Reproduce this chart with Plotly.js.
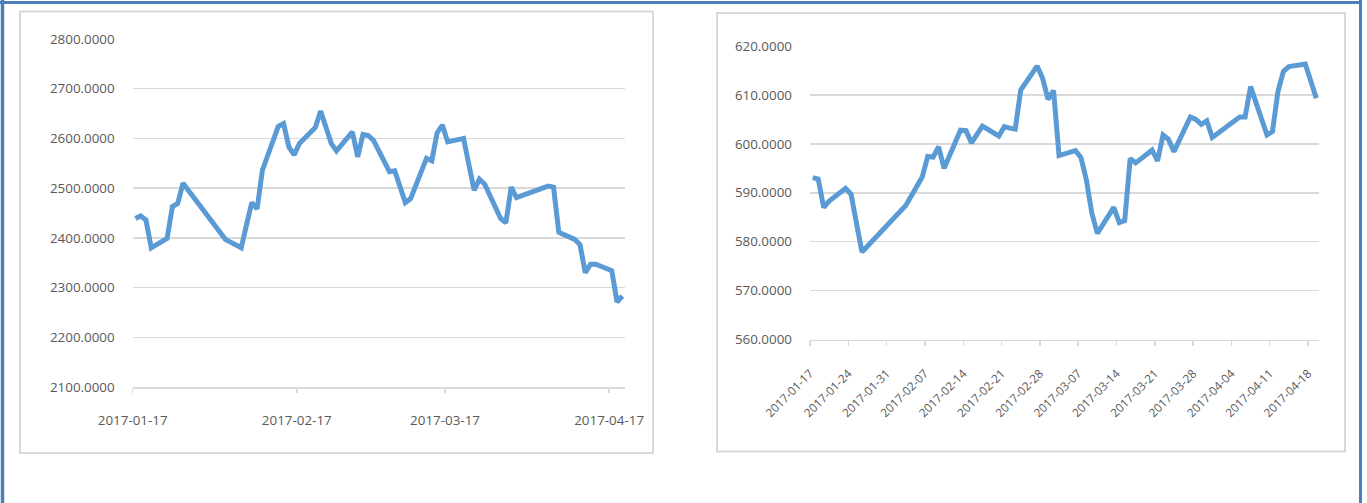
<!DOCTYPE html>
<html>
<head>
<meta charset="utf-8">
<script src="https://cdn.plot.ly/plotly-3.0.1.min.js"></script>
<style>
  html, body { margin: 0; padding: 0; background: #ffffff; }
  #chart { width: 1367px; height: 503px; }
</style>
</head>
<body>
<div id="chart"></div>
<script>
// ---- Data ----
const leftDates = [
  '2017-01-17','2017-01-18','2017-01-19','2017-01-20','2017-01-23','2017-01-24','2017-01-25','2017-01-26',
  '2017-02-03','2017-02-06','2017-02-07','2017-02-08','2017-02-09','2017-02-10',
  '2017-02-13','2017-02-14','2017-02-15','2017-02-16','2017-02-17',
  '2017-02-20','2017-02-21','2017-02-22','2017-02-23','2017-02-24',
  '2017-02-27','2017-02-28','2017-03-01','2017-03-02','2017-03-03',
  '2017-03-06','2017-03-07','2017-03-08','2017-03-09','2017-03-10',
  '2017-03-13','2017-03-14','2017-03-15','2017-03-16','2017-03-17',
  '2017-03-20','2017-03-21','2017-03-22','2017-03-23','2017-03-24',
  '2017-03-27','2017-03-28','2017-03-29','2017-03-30','2017-03-31',
  '2017-04-05','2017-04-06','2017-04-07',
  '2017-04-10','2017-04-11','2017-04-12','2017-04-13','2017-04-14',
  '2017-04-17','2017-04-18','2017-04-19'
];
const leftValues = [
  2439, 2444, 2436, 2380, 2399, 2463, 2469, 2510,
  2397, 2380, 2426, 2471, 2458, 2536,
  2624, 2630, 2583, 2567, 2590,
  2622, 2655, 2620, 2590, 2575,
  2613, 2563, 2608, 2606, 2596,
  2533, 2535, 2503, 2471, 2479,
  2560, 2555, 2611, 2627, 2593,
  2600, 2553, 2496, 2518, 2508,
  2439, 2430, 2502, 2481, 2485,
  2504, 2502, 2411,
  2397, 2386, 2330, 2347, 2347,
  2334, 2271, 2283
];

const rightDates = leftDates.slice();
const rightValues = [
  593.1, 592.8, 587.0, 588.3, 590.9, 589.7, 583.7, 577.9,
  587.4, 593.2, 597.4, 597.3, 599.4, 595.0,
  602.8, 602.7, 600.2, 602.1, 603.6,
  601.6, 603.5, 603.2, 603.0, 611.0,
  615.9, 613.4, 609.1, 610.9, 597.6,
  598.6, 597.2, 592.6, 585.8, 581.7,
  587.0, 583.9, 584.3, 597.0, 596.1,
  598.7, 596.5, 601.8, 600.9, 598.4,
  605.5, 605.0, 604.0, 604.7, 601.3,
  605.5, 605.5, 611.7,
  601.8, 602.5, 610.7, 614.8, 615.8,
  616.3, 612.8, 609.3
];

const leftTickLabels = ['2017-01-17','2017-02-17','2017-03-17','2017-04-17'];
const rightTickLabels = ['2017-01-17','2017-01-24','2017-01-31','2017-02-07','2017-02-14','2017-02-21',
  '2017-02-28','2017-03-07','2017-03-14','2017-03-21','2017-03-28','2017-04-04','2017-04-11','2017-04-18'];

const leftYTicks = [2100, 2200, 2300, 2400, 2500, 2600, 2700, 2800];
const rightYTicks = [560, 570, 580, 590, 600, 610, 620];

// ---- Layout helpers ----
const W = 1367, H = 503;
const px = v => v / W;
const py = v => 1 - v / H;
const HALF_DAY = 12 * 3600 * 1000;
// Excel date-axis ticks sit on category boundaries (half a day before each point)
const boundary = s => new Date(s + 'T00:00:00Z').getTime() - HALF_DAY;

const lineColor = '#5b9bd5';
const gridColor = '#d9d9d9';
const textColor = '#595959';
const fontFam = '"Open Sans", "Liberation Sans", Arial, sans-serif';

const traces = [
  { x: leftDates, y: leftValues, type: 'scatter', mode: 'lines', xaxis: 'x', yaxis: 'y',
    line: { color: lineColor, width: 5, shape: 'linear' }, hoverinfo: 'x+y' },
  { x: rightDates, y: rightValues, type: 'scatter', mode: 'lines', xaxis: 'x2', yaxis: 'y2',
    line: { color: lineColor, width: 5, shape: 'linear' }, hoverinfo: 'x+y' }
];

const tickFont = { family: fontFam, size: 13.4, color: textColor };
const rotFont = { family: fontFam, size: 11.8, color: textColor };

const layout = {
  width: W, height: H, autosize: false,
  margin: { l: 0, r: 0, t: 0, b: 0, pad: 0 },
  paper_bgcolor: '#ffffff', plot_bgcolor: 'rgba(0,0,0,0)',
  showlegend: false,
  xaxis: {
    type: 'date', domain: [px(132.7), px(625)],
    range: [boundary('2017-01-17'), boundary('2017-04-20')],
    tickvals: leftTickLabels.map(boundary), ticktext: leftTickLabels,
    showgrid: false, zeroline: false,
    showline: true, linecolor: gridColor, linewidth: 1.5,
    ticks: 'outside', ticklen: 4, tickcolor: gridColor, tickwidth: 1.5,
    ticklabelstandoff: 16,
    tickfont: tickFont, anchor: 'y'
  },
  yaxis: {
    domain: [py(387), py(39)], range: [2100, 2800],
    tickvals: leftYTicks, tickformat: '.4f',
    showgrid: true, gridcolor: gridColor, gridwidth: 1.5,
    zeroline: false, showline: false, ticks: '',
    ticklabelstandoff: 17,
    tickfont: tickFont, anchor: 'x'
  },
  xaxis2: {
    type: 'date', domain: [px(810), px(1319)],
    range: [boundary('2017-01-17'), boundary('2017-04-20')],
    tickvals: rightTickLabels.map(boundary), ticktext: rightTickLabels,
    tickangle: -45,
    showgrid: false, zeroline: false,
    showline: true, linecolor: gridColor, linewidth: 1.5,
    ticks: 'outside', ticklen: 5, tickcolor: gridColor, tickwidth: 1.5,
    ticklabelstandoff: 16,
    tickfont: rotFont, anchor: 'y2'
  },
  yaxis2: {
    domain: [py(339.5), py(46)], range: [560, 620],
    tickvals: rightYTicks, tickformat: '.4f',
    showgrid: true, gridcolor: gridColor, gridwidth: 1.5,
    zeroline: false, showline: false, ticks: '',
    ticklabelstandoff: 17,
    tickfont: tickFont, anchor: 'x2'
  },
  shapes: [
    // panel borders
    { type: 'rect', xref: 'paper', yref: 'paper', x0: px(20), x1: px(653), y0: py(453), y1: py(11.5),
      line: { color: gridColor, width: 2 }, fillcolor: 'rgba(0,0,0,0)', layer: 'below' },
    { type: 'rect', xref: 'paper', yref: 'paper', x0: px(717), x1: px(1345), y0: py(451.5), y1: py(13),
      line: { color: gridColor, width: 2 }, fillcolor: 'rgba(0,0,0,0)', layer: 'below' },
    // outer blue frame
    { type: 'line', xref: 'paper', yref: 'paper', x0: px(2.5), x1: px(2.5), y0: 0, y1: 1,
      line: { color: '#4a7ebb', width: 3.5 } },
    { type: 'line', xref: 'paper', yref: 'paper', x0: 0, x1: px(1362), y0: py(2.5), y1: py(2.5),
      line: { color: '#4a7ebb', width: 3 } },
    { type: 'line', xref: 'paper', yref: 'paper', x0: px(1360.5), x1: px(1360.5), y0: 0, y1: 1,
      line: { color: '#4a7ebb', width: 3 } }
  ]
};

Plotly.newPlot('chart', traces, layout, { displayModeBar: false, staticPlot: true });
</script>
</body>
</html>
